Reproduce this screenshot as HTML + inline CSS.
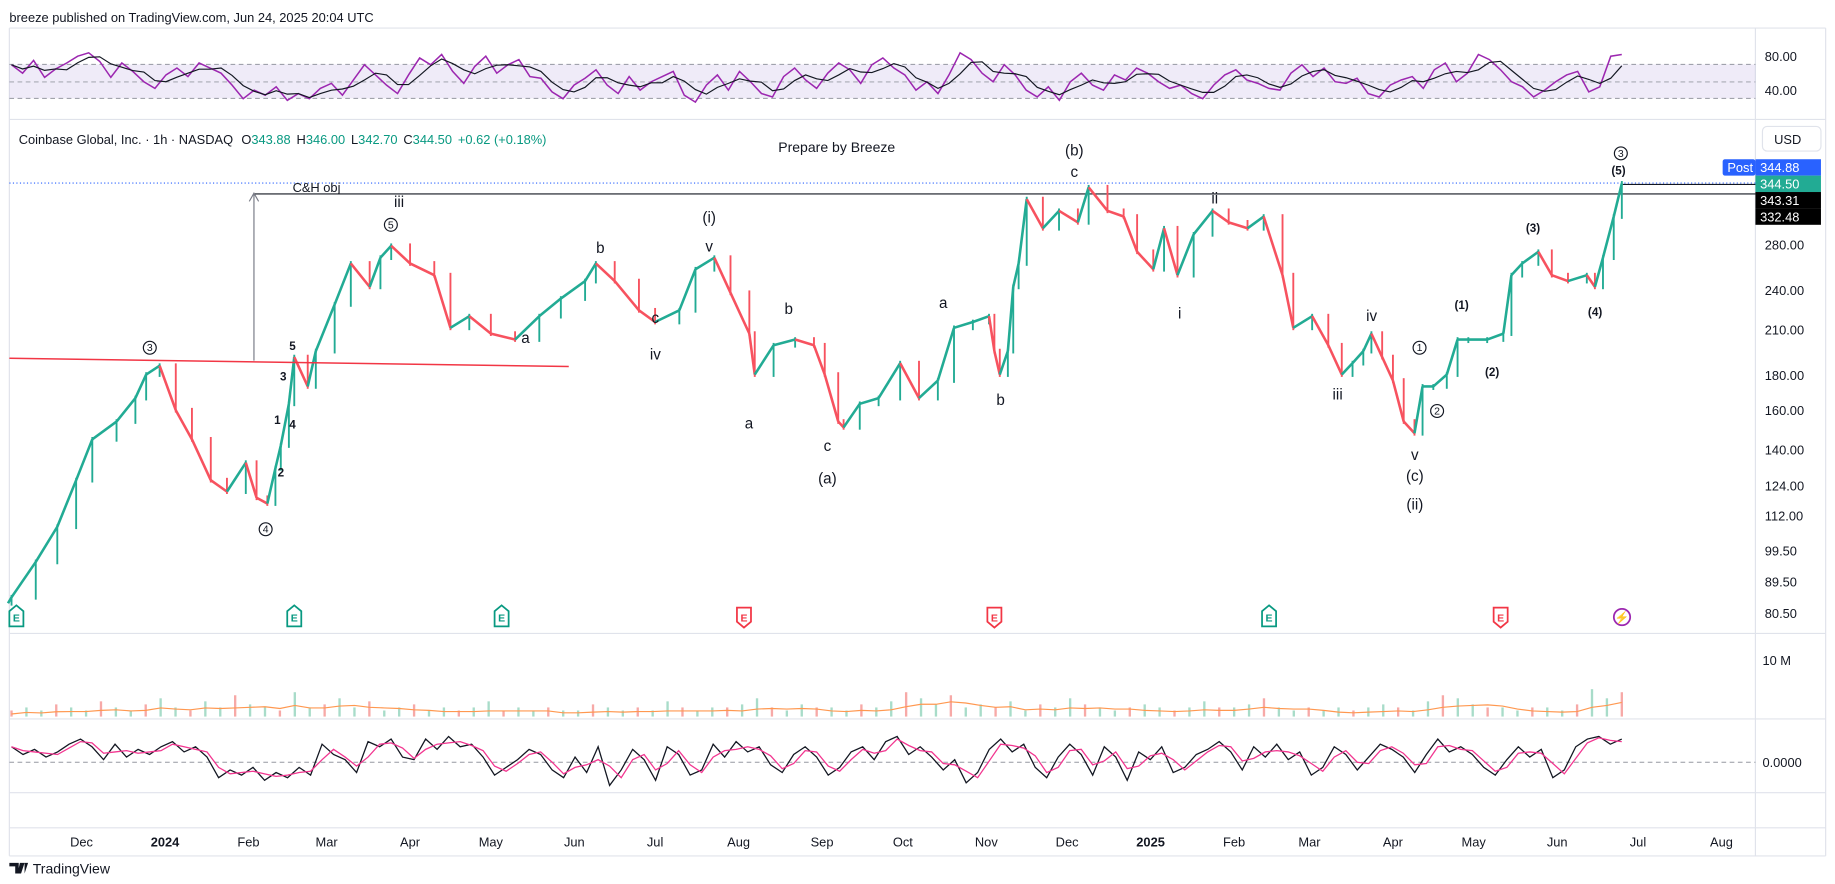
<!DOCTYPE html>
<html><head><meta charset="utf-8">
<style>
html,body{margin:0;padding:0;background:#fff;}
svg{display:block;font-family:"Liberation Sans",sans-serif;}
</style></head>
<body>
<svg id="c" width="1835" height="884" viewBox="0 0 1568 755" preserveAspectRatio="none" xmlns="http://www.w3.org/2000/svg">
<rect x="0" y="0" width="1568" height="755" fill="#fff"/>
<text x="8" y="19" font-size="11" fill="#131722">breeze published on TradingView.com, Jun 24, 2025 20:04 UTC</text>
<g stroke="#e0e3eb" stroke-width="1">
<line x1="8" y1="24" x2="1560" y2="24"/>
<line x1="8" y1="102" x2="1560" y2="102"/>
<line x1="8" y1="541" x2="1560" y2="541"/>
<line x1="8" y1="614" x2="1560" y2="614"/>
<line x1="8" y1="677" x2="1560" y2="677"/>
<line x1="8" y1="707" x2="1560" y2="707"/>
<line x1="8" y1="731" x2="1560" y2="731"/>
<line x1="1500" y1="24" x2="1500" y2="731"/>
<line x1="8" y1="24" x2="8" y2="731"/>
<line x1="1560" y1="24" x2="1560" y2="731"/>
</g>
<rect x="8" y="55" width="1492" height="29" fill="#7e57c2" fill-opacity="0.12"/>
<g stroke="#9598a1" stroke-dasharray="4,3" stroke-width="0.8">
<line x1="8" y1="55" x2="1500" y2="55"/>
<line x1="8" y1="70" x2="1500" y2="70"/>
<line x1="8" y1="84" x2="1500" y2="84"/>
<line x1="8" y1="651" x2="1500" y2="651"/>
</g>
<g font-size="11" fill="#131722">
<text x="1508" y="52">80.00</text>
<text x="1508" y="81">40.00</text>
<text x="1506" y="568">10 M</text>
<text x="1506" y="655">0.0000</text>
</g>
<g id="rsiG"></g>
<g id="volG"></g>
<g id="oscG"></g>
<text x="16" y="123" font-size="11" fill="#131722">Coinbase Global, Inc. · 1h · NASDAQ <tspan dx="4">O</tspan><tspan fill="#089981">343.88</tspan><tspan dx="5">H</tspan><tspan fill="#089981">346.00</tspan><tspan dx="5">L</tspan><tspan fill="#089981">342.70</tspan><tspan dx="5">C</tspan><tspan fill="#089981">344.50</tspan><tspan dx="5" fill="#089981">+0.62 (+0.18%)</tspan></text>
<rect x="1506" y="108" width="50" height="21" rx="4" fill="#fff" stroke="#e0e3eb"/>
<text x="1516" y="123" font-size="11" fill="#131722">USD</text>
<g id="priceG"></g>
<g id="axisG"></g>
<line x1="8" y1="306" x2="486" y2="313" stroke="#f23645" stroke-width="1.3"/>
<line x1="217" y1="308" x2="217" y2="166" stroke="#787b86" stroke-width="1"/>
<polyline points="213,172 217,165 221,172" fill="none" stroke="#787b86" stroke-width="1"/>
<text x="250" y="164" font-size="11" fill="#131722">C&amp;H obj</text>
<text x="665" y="130" font-size="12" fill="#131722">Prepare by Breeze</text>
<g font-size="13" fill="#131722" text-anchor="middle">
<text x="918" y="133">(b)</text><text x="918" y="151">c</text>
<text x="341" y="177">iii</text>
<text x="606" y="190">(i)</text><text x="606" y="215">v</text>
<text x="513" y="216">b</text><text x="806" y="263">a</text><text x="674" y="268">b</text>
<text x="560" y="276">c</text><text x="449" y="293">a</text><text x="560" y="307">iv</text>
<text x="640" y="366">a</text><text x="707" y="385">c</text><text x="707" y="413">(a)</text>
<text x="855" y="346">b</text><text x="1038" y="174">ii</text><text x="1008" y="272">i</text>
<text x="1172" y="274">iv</text><text x="1143" y="341">iii</text><text x="1209" y="393">v</text>
<text x="1209" y="411">(c)</text><text x="1209" y="435">(ii)</text>
</g>
<g font-size="10" font-weight="bold" fill="#131722" text-anchor="middle">
<text x="1249" y="264">(1)</text><text x="1275" y="321">(2)</text><text x="1310" y="198">(3)</text>
<text x="1363" y="270">(4)</text><text x="1383" y="149">(5)</text>
<text x="250" y="299">5</text><text x="242" y="325">3</text><text x="237" y="362">1</text>
<text x="250" y="366">4</text><text x="240" y="407">2</text>
</g>
<g font-size="9" fill="#131722" text-anchor="middle">
<circle cx="128" cy="297" r="5.5" fill="none" stroke="#131722"/><text x="128" y="300">3</text>
<circle cx="227" cy="452" r="5.5" fill="none" stroke="#131722"/><text x="227" y="455">4</text>
<circle cx="334" cy="192" r="5.5" fill="none" stroke="#131722"/><text x="334" y="195">5</text>
<circle cx="1213" cy="297" r="5.5" fill="none" stroke="#131722"/><text x="1213" y="300">1</text>
<circle cx="1228" cy="351" r="5.5" fill="none" stroke="#131722"/><text x="1228" y="354">2</text>
<circle cx="1385" cy="131" r="5.5" fill="none" stroke="#131722"/><text x="1385" y="134">3</text>
</g>
<g id="eventsG"></g>
<g>
<path d="M8 737h8v9h-3v-6h-5z M17 737h4l-3 9h-3z M21 737h3l-3 9z" fill="#131722"/>
<text x="28" y="746" font-size="12" fill="#131722">TradingView</text>
</g>
<script>
// ---- data ----
const days = [-57,-48,-40,-33,-27,-18,-11,-7,-2,4,10,17,23,30,34,38,41,43,46,48,53,56,63,69,76,80,84,91,100,106,113,121,130,139,147,156,160,167,176,182,191,197,204,210,217,219,226,234,241,245,250,252,258,265,273,280,287,293,300,306,308,310,313,315,317,320,326,332,339,343,350,356,361,367,371,376,382,389,395,402,408,415,419,426,432,437,441,445,448,452,456,460,464,467,471,476,480,484,491,497,500,504,510,515,521,528,531,534,538,541];
const closes = [85,95.8,107.9,126.3,145,154,166.7,180.5,186,160,145,126.3,121.5,134,119,116.7,131.5,142,163.5,191.5,173.4,195.4,228.8,262.8,242.8,268,279,262.8,252.6,211.4,219.9,207.3,203.2,219.9,233.4,247.6,262.8,247.6,224.3,215.6,224.3,257.7,268,238,207.3,180.5,199.3,203.2,199.3,180.5,154,151,163.5,166.7,187.6,166.7,176.9,211.4,215.6,219.9,195.4,180.5,195.4,242.8,262.8,326.7,296,314,302,340,314,308,273.4,257.7,296,252.6,290,314,302,296,308,252.6,211.4,219.9,199.3,180.5,187.6,195.4,207.3,191.5,176.9,154,148,173.4,173.4,180.5,203.2,203.2,203.2,207.3,252.6,262.8,273.4,252.6,247.6,252.6,242.8,268,308,344.5];
const priceTicks = [280,240,210,180,160,140,124,112,99.5,89.5,80.5];
const monthLabels = ["Dec","2024","Feb","Mar","Apr","May","Jun","Jul","Aug","Sep","Oct","Nov","Dec","2025","Feb","Mar","Apr","May","Jun","Jul","Aug"];
const monthDays = [-31,0,31,60,91,121,152,182,213,244,274,305,335,366,397,425,456,486,517,547,578];
const rsi = [70,60,75,55,65,72,80,84,74,55,72,62,50,42,58,66,56,72,66,60,46,30,40,34,44,28,36,30,42,48,34,52,70,58,46,36,58,78,70,82,62,48,68,80,60,70,76,56,54,38,30,46,54,64,46,36,56,40,50,56,62,34,26,46,58,40,62,50,36,32,56,66,52,42,60,72,64,48,70,78,66,58,40,50,36,58,84,76,60,50,70,58,40,32,44,28,50,60,46,40,58,52,66,60,50,42,46,36,30,46,58,64,52,48,42,40,60,70,56,66,50,48,54,36,32,46,52,56,42,64,72,50,60,82,76,64,50,44,32,40,50,58,62,38,44,80,82];
const osc = [0.6,0.3,0.5,0.2,0.4,0.7,0.9,0.6,0.1,0.7,0.2,0.5,0.3,0.6,0.8,0.4,0.6,0.2,-0.6,-0.3,-0.5,-0.2,-0.7,-0.4,-0.6,-0.2,-0.5,0.7,0.3,0.1,-0.4,0.8,0.6,0.9,0.2,0.1,0.9,0.5,1.0,0.6,0.7,0.2,-0.5,-0.2,0.1,0.5,0.3,-0.3,-0.6,0.2,-0.4,0.6,-0.9,-0.3,0.5,0.1,-0.7,0.6,0.3,-0.5,-0.3,0.7,0.2,0.8,0.4,0.6,-0.1,-0.4,0.3,0.6,0.2,-0.5,-0.2,0.4,0.6,0.1,0.8,1.0,0.3,0.6,0.2,-0.3,0.1,-0.8,-0.4,0.5,0.9,0.4,0.7,-0.2,-0.6,0.2,0.7,0.3,-0.5,0.6,0.2,-0.7,0.4,0.1,0.6,-0.4,-0.2,0.3,0.5,0.8,0.4,-0.3,0.6,0.2,0.7,0.1,0.4,-0.5,-0.2,0.6,0.3,-0.3,0.2,0.7,0.5,0.2,-0.4,0.3,0.9,0.4,0.6,0.3,-0.2,-0.5,0.1,0.6,0.2,0.5,-0.6,-0.3,0.6,0.9,1.0,0.7,0.9];
const vols = [2,3,2,4,3,2,5,3,2,4,6,3,2,5,3,7,4,3,2,8,3,4,6,3,5,2,3,4,2,3,2,3,5,2,3,2,3,2,2,4,3,2,3,2,5,3,2,3,3,4,6,3,2,4,3,3,2,4,3,5,8,6,4,7,3,4,3,5,2,4,3,6,4,3,2,3,4,3,2,3,5,3,3,4,6,3,2,3,2,3,2,3,4,3,2,5,7,6,4,3,3,2,3,3,2,4,9,6,8];
const events = [{d:-57,t:"g"},{d:48,t:"g"},{d:125,t:"g"},{d:215,t:"r"},{d:308,t:"r"},{d:410,t:"g"},{d:496,t:"r"}];

// ---- scales ----
const X = d => 141 + d * 2.301;
const Y = p => 209 - 252.6 * Math.log(p / 280);
const RY = v => 48 + (80 - v) * 0.725;
const OY = v => 651 - v * 22;
const VY = v => 612 - v * 2.6;
const NS = "http://www.w3.org/2000/svg";
function mk(tag, attrs, parent) { const e = document.createElementNS(NS, tag); for (const k in attrs) e.setAttribute(k, attrs[k]); parent.appendChild(e); return e; }

// ---- price pane ----
const pg = document.getElementById('priceG');
let l1 = mk('line', {x1: 8, y1: Y(344.88), x2: 1500, y2: Y(344.88), stroke: '#2962ff', 'stroke-dasharray': '1,2', 'stroke-width': 1}, pg);


let l2 = mk('line', {x1: 217, y1: Y(332.48), x2: 1500, y2: Y(332.48), stroke: '#131722', 'stroke-width': 1}, pg);


let l3 = mk('line', {x1: X(days[days.length - 1]), y1: Y(343.31), x2: 1500, y2: Y(343.31), stroke: '#131722', 'stroke-width': 1}, pg);


for (let i = 0; i < closes.length; i++) {
  const o = i ? closes[i - 1] : closes[0] * 0.98;
  const c = closes[i];
  const col = c >= o ? '#22ab94' : '#f7525f';
  const x0 = i ? X(days[i - 1]) : X(days[0]) - 3;
  const x1 = X(days[i]);
  const w = mk('line', {x1: x0, y1: Y(o), x2: x1, y2: Y(c), stroke: col, 'stroke-width': 2.2}, pg);
  
  
  const top = Math.min(Y(o), Y(c)), h = Math.max(1, Math.abs(Y(o) - Y(c)));
  const b = mk('rect', {x: x1 - 0.8, y: top - 2, width: 1.6, height: h + 4, fill: col}, pg);
  
  
}
const tags = [["Post", 1472, 136, 28, "#2962ff"], ["344.88", 1500, 136, 56, "#2962ff"], ["344.50", 1500, 150, 56, "#22ab94"], ["343.31", 1500, 164, 56, "#000"], ["332.48", 1500, 178, 56, "#000"]];
tags.forEach(t => {
  const r = mk('rect', {x: t[1], y: t[2], width: t[3], height: 14, fill: t[4], rx: t[0] === "Post" ? 2 : 0}, pg);
  
  
  const tx = mk('text', {x: t[1] + 4, y: t[2] + 11, 'font-size': 11, fill: '#fff'}, pg);
  tx.textContent = t[0];
  
  
});
const ag = document.getElementById('axisG');
priceTicks.forEach(p => {
  const t = mk('text', {x: 1508, y: Y(p) + 4, 'font-size': 11, fill: '#131722'}, ag);
  t.textContent = p.toFixed(2);
  
  
});
monthLabels.forEach((m, i) => {
  const t = mk('text', {x: X(monthDays[i]), y: 723, 'font-size': 11, fill: '#131722', 'text-anchor': 'middle', 'font-weight': /^\d+$/.test(m) ? 'bold' : 'normal'}, ag);
  t.textContent = m;
  
  
});

// ---- RSI ----
const rg = document.getElementById('rsiG');
const xs = (n, i) => X(days[0]) + i * (X(days[days.length - 1]) - X(days[0])) / (n - 1);
let rl = mk('polyline', {points: rsi.map((v, i) => xs(rsi.length, i).toFixed(1) + ',' + RY(v).toFixed(1)).join(' '), fill: 'none', stroke: '#9c27b0', 'stroke-width': 1.3}, rg);


const sma = (a, n) => a.map((v, i) => { let s = 0, c = 0; for (let j = Math.max(0, i - n + 1); j <= i; j++) { s += a[j]; c++; } return s / c; });
let rm = sma(rsi, 3);
let rml = mk('polyline', {points: rm.map((v, i) => xs(rsi.length, i).toFixed(1) + ',' + RY(v).toFixed(1)).join(' '), fill: 'none', stroke: '#131722', 'stroke-width': 1}, rg);



// ---- Volume ----
const vg = document.getElementById('volG');
vols.forEach((v, i) => {
  const x = xs(vols.length, i);
  const col = i % 3 === 0 ? '#f7a9a7' : '#a8dcc9';
  const b = mk('rect', {x: x - 1, y: VY(v), width: 2, height: 612 - VY(v), fill: col}, vg);
  
  
});
let vm = sma(vols, 5);
let vml = mk('polyline', {points: vm.map((v, i) => xs(vols.length, i).toFixed(1) + ',' + (VY(v) + 3).toFixed(1)).join(' '), fill: 'none', stroke: '#ff9850', 'stroke-width': 1}, vg);



// ---- Oscillator ----
const og = document.getElementById('oscG');
let ol = mk('polyline', {points: osc.map((v, i) => xs(osc.length, i).toFixed(1) + ',' + OY(v).toFixed(1)).join(' '), fill: 'none', stroke: '#131722', 'stroke-width': 1.1}, og);


let os = sma(osc, 2);
let osl = mk('polyline', {points: os.map((v, i) => xs(osc.length, i).toFixed(1) + ',' + OY(v).toFixed(1)).join(' '), fill: 'none', stroke: '#f23690', 'stroke-width': 1.1}, og);



// ---- events ----
const eg = document.getElementById('eventsG');
events.forEach(e => {
  const x = Math.max(14, X(e.d));
  const col = e.t === 'g' ? '#089981' : '#f23645';
  const p = e.t === 'g'
    ? `M${x - 6} ${522} L${x} ${517} L${x + 6} ${522} V${535} H${x - 6} Z`
    : `M${x - 6} ${519} H${x + 6} V${531} L${x} ${536} L${x - 6} ${531} Z`;
  const pp = mk('path', {d: p, fill: '#fff', stroke: col, 'stroke-width': 1.5}, eg);
  
  
  const t = mk('text', {x: x, y: 531, 'font-size': 9, 'font-weight': 'bold', fill: col, 'text-anchor': 'middle'}, eg);
  t.textContent = 'E';
  
  
});
const lc = mk('circle', {cx: 1386, cy: 527, r: 7, fill: 'none', stroke: '#9c27b0', 'stroke-width': 1.5}, eg);


const lt = mk('text', {x: 1386, y: 531, 'font-size': 10, fill: '#9c27b0', 'text-anchor': 'middle'}, eg);
lt.textContent = '⚡';


</script>
</svg>
</body></html>
